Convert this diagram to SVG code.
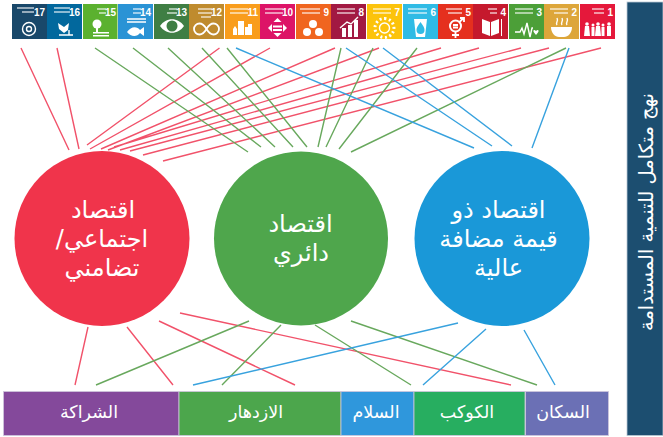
<svg xmlns="http://www.w3.org/2000/svg" width="663" height="437" viewBox="0 0 663 437">
<style>
.ar{font-family:"DejaVu Sans","Noto Sans",sans-serif;fill:#fff;text-anchor:middle;direction:rtl}
.c{font-size:24px}.b{font-size:17.500px}
.r{stroke:#f1526a;stroke-width:1.4;fill:none}
.g{stroke:#68a85d;stroke-width:1.4;fill:none}
.l{stroke:#38a2de;stroke-width:1.4;fill:none}
.n{font-family:"Liberation Sans",sans-serif;font-weight:700;font-size:10px;fill:#fff;text-anchor:end}
.w{fill:#fff}.s{fill:none;stroke:#fff;stroke-width:1.4}
.t{fill:#fff;opacity:.55}
.bar{stroke:#cfc6dc;stroke-width:.8}
</style>
<rect width="663" height="437" fill="#fff"/>
<g id="sdg-17"><rect x="12" y="4" width="35.300" height="35" fill="#19486a"/><g transform="translate(12 4)"><rect class="t" x="5" y="3" width="17" height="2"/><rect class="t" x="10" y="7" width="12" height="2"/><circle class="s" cx="17" cy="25" r="6.500"/><circle class="s" cx="17" cy="25" r="2.500"/><text class="n" x="33" y="12">17</text></g></g>
<g id="sdg-16"><rect x="47" y="4" width="35" height="35" fill="#02689d"/><g transform="translate(47 4)"><rect class="t" x="7" y="3" width="16" height="2"/><rect class="t" x="7" y="7" width="16" height="2"/><path class="w" d="M11 19l6 4 5-4-1 7-4 3-5-4z"/><path class="s" d="M12 31h14M22 26v5"/><text class="n" x="33" y="12">16</text></g></g>
<g id="sdg-15"><rect x="83" y="4" width="34.500" height="35" fill="#5bb12f"/><g transform="translate(83 4)"><rect class="t" x="14" y="4" width="9" height="2"/><rect class="t" x="16" y="8" width="7" height="2"/><circle class="w" cx="14" cy="20" r="4.500"/><rect class="w" x="13" y="23" width="2" height="6"/><rect class="w" x="10" y="28" width="16" height="1.500"/><rect class="w" x="10" y="31" width="16" height="1.500"/><text class="n" x="33" y="12">15</text></g></g>
<g id="sdg-14"><rect x="118" y="4" width="35" height="35" fill="#2a93d5"/><g transform="translate(118 4)"><rect class="t" x="15" y="4" width="8" height="2"/><rect class="t" x="15" y="8" width="8" height="2"/><path class="s" d="M9 15h19M9 18h19"/><path class="w" d="M9 28c4-6 10-6 13-2l4-3v9l-4-3c-3 4-9 4-13-1z"/><text class="n" x="33" y="12">14</text></g></g>
<g id="sdg-13"><rect x="154" y="4" width="35" height="35" fill="#3f7e44"/><g transform="translate(154 4)"><rect class="t" x="15" y="4" width="8" height="2"/><rect class="t" x="13" y="8" width="10" height="2"/><path class="w" d="M6 22c6-9 18-9 24 0-6 9-18 9-24 0z"/><circle cx="18" cy="22" r="5.500" fill="#3f7e44"/><text class="n" x="33" y="12">13</text></g></g>
<g id="sdg-12"><rect x="189" y="4" width="35" height="35" fill="#bf8b2e"/><g transform="translate(189 4)"><rect class="t" x="9" y="4" width="14" height="2"/><rect class="t" x="9" y="8" width="14" height="2"/><rect class="t" x="12" y="12" width="10" height="2"/><path class="s" style="stroke-width:1.800" d="M17.500 25c-3-5-5-5.500-7-5.500a5.500 5.500 0 0 0 0 11c2 0 4-.5 7-5.500s5-5.500 7-5.500a5.500 5.500 0 0 1 0 11c-2 0-4-.5-7-5.500z"/><text class="n" x="33" y="12">12</text></g></g>
<g id="sdg-11"><rect x="225" y="4" width="35" height="35" fill="#f99d1c"/><g transform="translate(225 4)"><rect class="t" x="5" y="4" width="18" height="2"/><rect class="t" x="5" y="8" width="18" height="2"/><path class="w" d="M8 31v-6l2-3 2 3v6zM13 31V17h6v14zM20 31v-8h3v-3h4v11z"/><text class="n" x="33" y="12">11</text></g></g>
<g id="sdg-10"><rect x="260" y="4" width="35" height="35" fill="#dd1367"/><g transform="translate(260 4)"><rect class="t" x="5" y="4" width="18" height="2"/><rect class="t" x="5" y="8" width="18" height="2"/><path class="w" d="M17.500 14l4 4h-8zM17.500 33l4-4h-8zM8 24l4-4v8zM27 24l-4-4v8zM13 21.500h9v2h-9zM13 25h9v2h-9z"/><text class="n" x="33" y="12">10</text></g></g>
<g id="sdg-9"><rect x="296" y="4" width="35" height="35" fill="#f0651f"/><g transform="translate(296 4)"><rect class="t" x="4" y="4" width="20" height="2"/><rect class="t" x="6" y="8" width="18" height="2"/><circle class="w" cx="17" cy="20" r="4"/><circle class="w" cx="11" cy="28" r="4"/><circle class="w" cx="23" cy="28" r="4"/><text class="n" x="33" y="12">9</text></g></g>
<g id="sdg-8"><rect x="331" y="4" width="35" height="35" fill="#a21942"/><g transform="translate(331 4)"><rect class="t" x="6" y="4" width="18" height="2"/><rect class="t" x="6" y="8" width="18" height="2"/><path class="w" d="M11 33v-9h4v9zM17 33V21h4v12zM23 33V16h4v17z"/><path class="s" d="M9 24l7-6 4 2 7-7"/><text class="n" x="33" y="12">8</text></g></g>
<g id="sdg-7"><rect x="367" y="4" width="35" height="35" fill="#fcc30b"/><g transform="translate(367 4)"><rect class="t" x="6" y="4" width="18" height="2"/><rect class="t" x="6" y="8" width="18" height="2"/><circle class="s" cx="17.500" cy="24" r="5"/><path class="s" stroke-dasharray="2 2.500" d="M17.500 14.500a9.500 9.500 0 1 1-.1 0z" style="stroke-width:3"/><text class="n" x="33" y="12">7</text></g></g>
<g id="sdg-6"><rect x="403" y="4" width="35" height="35" fill="#2fbbe5"/><g transform="translate(403 4)"><rect class="t" x="5" y="4" width="19" height="2"/><rect class="t" x="5" y="8" width="19" height="2"/><path class="w" d="M11 15h13l-2 18h-9z"/><path d="M17.500 18c3 4 4 6 4 8a4 4 0 0 1-8 0c0-2 1-4 4-8z" fill="#2fbbe5"/><text class="n" x="33" y="12">6</text></g></g>
<g id="sdg-5"><rect x="438" y="4" width="35" height="35" fill="#e5301e"/><g transform="translate(438 4)"><rect class="t" x="8" y="4" width="16" height="2"/><rect class="t" x="10" y="8" width="14" height="2"/><circle class="s" style="stroke-width:2" cx="17.500" cy="22" r="5.500"/><path class="s" style="stroke-width:1.800" d="M17.500 27.500V34M14 31h7M21.500 18l4-4M22 14h4v4M15 21h5M15 23.500h5"/><text class="n" x="33" y="12">5</text></g></g>
<g id="sdg-4"><rect x="473" y="4" width="35" height="35" fill="#c5192d"/><g transform="translate(473 4)"><rect class="t" x="15" y="4" width="9" height="2"/><rect class="t" x="17" y="8" width="7" height="2"/><path class="w" d="M9 15l8 3v14l-8-3zM26 15l-8 3v14l8-3z"/><rect class="w" x="28" y="15" width="1" height="17"/><text class="n" x="33" y="12">4</text></g></g>
<g id="sdg-3"><rect x="509" y="4" width="35" height="35" fill="#4c9f38"/><g transform="translate(509 4)"><rect class="t" x="6" y="4" width="18" height="2"/><rect class="t" x="6" y="8" width="18" height="2"/><path class="s" d="M6 28h5l2-4 2 6 3-11 3 14 2-9h1"/><path class="w" d="M27 27c-2-2-3.500-.5-2 1.500l2 2.500 2-2.500c1.500-2 0-3.500-2-1.500z"/><text class="n" x="33" y="12">3</text></g></g>
<g id="sdg-2"><rect x="544" y="4" width="35" height="35" fill="#dda63a"/><g transform="translate(544 4)"><rect class="t" x="6" y="4" width="18" height="2"/><rect class="t" x="10" y="8" width="14" height="2"/><path class="w" d="M7 23h21c0 6-4 10-8 10h-5c-4 0-8-4-8-10z"/><path class="s" d="M13 21c-2-3 2-3 0-7M18 21c-2-3 2-3 0-7M23 21c-2-3 2-3 0-7"/><text class="n" x="33" y="12">2</text></g></g>
<g id="sdg-1"><rect x="580" y="4" width="35" height="35" fill="#e5183b"/><g transform="translate(580 4)"><rect class="t" x="12" y="4" width="12" height="2"/><rect class="t" x="14" y="8" width="10" height="2"/><g class="w"><circle cx="7" cy="20" r="1.800"/><path d="M5 22h4l1 10H4z"/><circle cx="13" cy="21" r="1.500"/><path d="M11.500 23h3v9h-3z"/><circle cx="18" cy="20" r="1.800"/><path d="M16 22h4l1 10h-6z"/><circle cx="23" cy="21" r="1.500"/><path d="M21.500 23h3v9h-3z"/><circle cx="29" cy="20" r="1.800"/><path d="M27 22h4v10h-4z"/></g><text class="n" x="33" y="12">1</text></g></g>
<g id="connectors">
<path class="r" d="M21 48L69 150M57 48L79 149M219.500 48L87 145M270 48L90 149M335 48L101 149M379 48L108 150M441 48L114 147M479 48L120 150M521 48L130 151M549 48L143 155M601 48L163 161"/>
<path class="g" d="M95 48L248 152M133 48L261 147M168 48L275 147M202 48L293 147M227 48L307 147M341 48L318 147M373 48L326 147M417 48L339 149M566 48L351 152"/>
<path class="l" d="M236 48L474 148M346 48L492 146M383 48L512 146M569 48L532 148"/>
<path class="r" d="M88 327L75 385M127 327L173 385M159 321L295 385M180 313L511 385"/>
<path class="g" d="M249 321L96 385M281 325L222 385M315 325L411 385M351 321L537 385"/>
<path class="l" d="M458 323L193 385M486 329L423 385M524 330L555 385"/>
</g>
<g id="circle-social"><circle cx="102" cy="238.500" r="87.500" fill="#f0344b"/><text class="ar c" x="103" y="218">اقتصاد</text><text class="ar c" x="102" y="247">اجتماعي/</text><text class="ar c" x="102" y="276">تضامني</text></g>
<g id="circle-circular"><circle cx="301" cy="238.500" r="87" fill="#4fa64c"/><text class="ar c" x="300.500" y="232">اقتصاد</text><text class="ar c" x="301" y="261">دائري</text></g>
<g id="circle-value"><circle cx="502" cy="238.500" r="87.500" fill="#1a98d8"/><text class="ar c" x="498.500" y="218">اقتصاد ذو</text><text class="ar c" x="498.500" y="247">قيمة مضافة</text><text class="ar c" x="498.500" y="276">عالية</text></g>
<g id="bar-partnership"><rect class="bar" x="3.500" y="391.500" width="175.500" height="44" fill="#84499b"/><text class="ar b" x="89" y="418">الشراكة</text></g>
<g id="bar-prosperity"><rect class="bar" x="179" y="391.500" width="162" height="44" fill="#4ca64c"/><text class="ar b" x="256" y="418">الازدهار</text></g>
<g id="bar-peace"><rect class="bar" x="341" y="391.500" width="73" height="44" fill="#2f97dc"/><text class="ar b" x="376" y="418">السلام</text></g>
<g id="bar-planet"><rect class="bar" x="414" y="391.500" width="111" height="44" fill="#27ae60"/><text class="ar b" x="467" y="418">الكوكب</text></g>
<g id="bar-people"><rect class="bar" x="525.500" y="391.500" width="83" height="44" fill="#6b70b5"/><text class="ar b" x="563" y="418">السكان</text></g>
<g id="side-panel"><rect x="627" y="2" width="36" height="433.500" fill="#1c4e70" stroke="#b9c8d4" stroke-width=".8"/><text class="ar" style="font-size:19.500px" transform="translate(653 212) rotate(-90)">نهج متكامل للتنمية المستدامة</text></g>
</svg>
